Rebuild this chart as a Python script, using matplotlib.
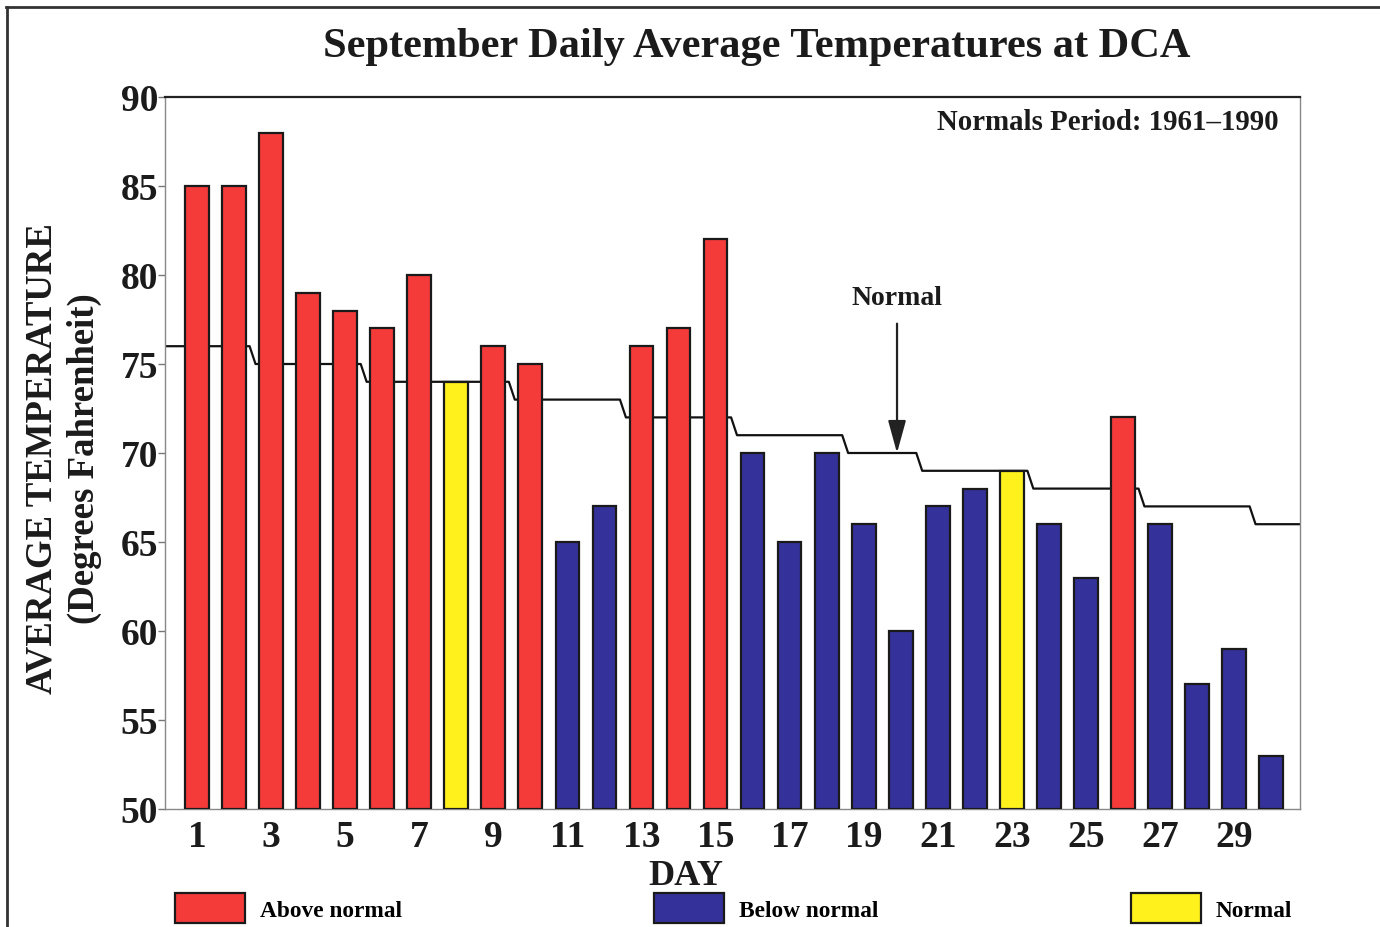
import numpy as np
import matplotlib
matplotlib.use("Agg")
import matplotlib.pyplot as plt
from matplotlib.lines import Line2D

plt.rcParams.update({
    "font.family": "serif", "font.serif": ["Liberation Serif", "DejaVu Serif"],
    "font.weight": "bold",
})

days = list(range(1, 31))
temps = [85, 85, 88, 79, 78, 77, 80, 74, 76, 75,
         65, 67, 76, 77, 82, 70, 65, 70, 66, 60,
         67, 68, 69, 66, 63, 72, 66, 57, 59, 53]
normals = [76, 76, 75, 75, 75, 74, 74, 74, 74, 73,
           73, 73, 72, 72, 72, 71, 71, 71, 70, 70,
           69, 69, 69, 68, 68, 68, 67, 67, 67, 66]
xticks = list(range(1, 30, 2))
yticks = list(range(50, 91, 5))

C_ABOVE = "#f53a3a"
C_BELOW = "#34329a"
C_NORM = "#fff21c"
INK = "#1b1b1b"

fig = plt.figure(figsize=(13.8, 9.28), dpi=100)
ax = fig.add_axes([165 / 1380, 1 - 810 / 928, (1300 - 165) / 1380, (810 - 98) / 928])
xlo, xhi = 0.136, 30.78

# normal line as a step curve, drawn behind the bars
sx, sy = [xlo], [normals[0]]
for d, n in zip(days, normals):
    sx += [d - 0.42, d + 0.42]
    sy += [n, n]
sx.append(xhi); sy.append(normals[-1])
ax.plot(sx, sy, color="#111", lw=1.6, zorder=2)

cols = [C_ABOVE if t > n else (C_BELOW if t < n else C_NORM) for t, n in zip(temps, normals)]
base = yticks[0]
ax.bar(days, [t - base for t in temps], bottom=base, width=0.64, color=cols,
       edgecolor="#1a1a1a", linewidth=1.6, zorder=3)

ax.set_xlim(xlo, xhi)
ax.set_ylim(50, 90)
ax.set_xticks(xticks)
ax.set_xticklabels([str(x) for x in xticks], fontsize=27, color=INK)
ax.set_yticks(yticks)
ax.set_yticklabels([str(y) for y in yticks], fontsize=27, color=INK)
ax.tick_params(axis="x", length=0, pad=7)
ax.tick_params(axis="y", length=5, width=1, color="#777", pad=0)
for s in ("left", "right", "bottom"):
    ax.spines[s].set_color("#888"); ax.spines[s].set_linewidth(1.0)
ax.spines["top"].set_color("#222"); ax.spines["top"].set_linewidth(1.6)

ax.text(0.981, 0.965, "Normals Period: 1961\u20131990", transform=ax.transAxes,
        ha="right", va="center", fontsize=20.8, color=INK)
ax.annotate("Normal", xy=(19.9, normals[19]), xytext=(19.9, 78.75),
            ha="center", va="center", fontsize=20, color=INK,
            arrowprops=dict(arrowstyle="-|>,head_length=0.8,head_width=0.22",
                            color="#222", lw=1.6, mutation_scale=25,
                            shrinkA=8, shrinkB=0))

fig.text(757 / 1380, 1 - 47 / 928, "September Daily Average Temperatures at DCA",
         ha="center", va="center", fontsize=30.5, color=INK)
fig.text(42 / 1380, 1 - 458 / 928, "AVERAGE TEMPERATURE", rotation=90,
         ha="center", va="center", fontsize=26.5, color=INK)
fig.text(84 / 1380, 1 - 459 / 928, "(Degrees Fahrenheit)", rotation=90,
         ha="center", va="center", fontsize=26.5, color=INK)
fig.text(686 / 1380, 1 - 877 / 928, "DAY", ha="center", va="center",
         fontsize=26, color=INK)

handles = [plt.Rectangle((0, 0), 1, 1, facecolor=c, edgecolor="#1a1a1a", lw=1.6)
           for c in (C_ABOVE, C_BELOW, C_NORM)]
fig.legend(handles, ["Above normal", "Below normal", "Normal"], ncol=3,
           loc="center left", bbox_to_anchor=(175 / 1380, 1 - 909 / 928),
           frameon=False, fontsize=16.8, handlelength=3.0, handleheight=1.6,
           handletextpad=0.65, columnspacing=10.8, borderpad=0, borderaxespad=0)

# page frame of the scanned figure
fig.add_artist(Line2D([0.004, 1.0], [0.991, 0.991], transform=fig.transFigure, color="#333", lw=2))
fig.add_artist(Line2D([0.005, 0.005], [0.0, 0.991], transform=fig.transFigure, color="#333", lw=2))

fig.savefig("out.png", dpi=100)
